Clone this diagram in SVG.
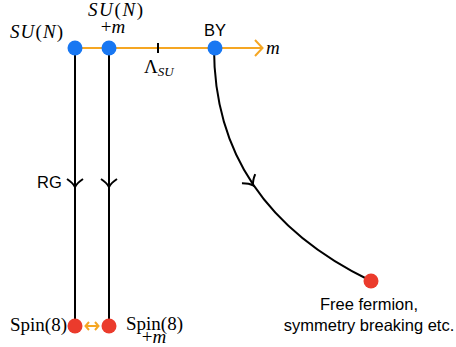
<svg xmlns="http://www.w3.org/2000/svg" width="456" height="347" viewBox="0 0 456 347">
<style>
.sans{font-family:"Liberation Sans",Arial,sans-serif;font-size:16.5px;fill:#000}
.serif{font-family:"Liberation Serif","Times New Roman","DejaVu Serif",serif;font-size:19px;fill:#000}
.it{font-style:italic}
.blk{fill:none;stroke:#000;stroke-width:2}
.org{fill:none;stroke:#F5A623;stroke-width:2}
.blue{fill:#1877F2}
.red{fill:#EB3B2C}
</style>
<defs>
<path id="chev" d="M-8,-7 Q-2,-3 0,1 Q2,-3 8,-7" fill="none" stroke="#000" stroke-width="2"/>
</defs>
<g id="connectors">
<line class="org" x1="75" y1="48" x2="262" y2="48"/>
<path class="org" d="M255,40 L262.5,48 L255,56"/>
<line x1="158" y1="43" x2="158" y2="53" stroke="#000" stroke-width="2"/>
<line class="blk" x1="75" y1="48" x2="75" y2="326"/>
<line class="blk" x1="109" y1="48" x2="109" y2="326"/>
<use href="#chev" transform="translate(75,186)"/>
<use href="#chev" transform="translate(109,186)"/>
<path class="blk" d="M214,48 Q214,205 371,281"/>
<use href="#chev" transform="translate(252.5,184.5) rotate(-34)"/>
<line class="org" x1="86" y1="326" x2="98" y2="326"/>
<path class="org" d="M89,322 L85.5,326 L89,330 M95,322 L98.5,326 L95,330"/>
</g>
<g id="n-sun">
<circle class="blue" cx="75" cy="48" r="7.5"/>
<text class="serif" x="10" y="38" textLength="53"><tspan class="it">SU</tspan>(<tspan class="it">N</tspan>)</text>
</g>
<g id="n-sunm">
<circle class="blue" cx="109" cy="48" r="7.5"/>
<text class="serif" x="88" y="16" font-size="17" textLength="55"><tspan class="it">SU</tspan>(<tspan class="it">N</tspan>)</text>
<text class="serif" x="113" y="33" font-size="18" text-anchor="middle">+<tspan class="it">m</tspan></text>
</g>
<g id="n-by">
<circle class="blue" cx="215" cy="48" r="7.5"/>
<text class="sans" x="215" y="36" text-anchor="middle">BY</text>
</g>
<g id="labels">
<text class="serif" x="144" y="73">Λ<tspan class="it" font-size="13" dy="3">SU</tspan></text>
<text class="serif it" x="266" y="54" font-size="21">m</text>
<text class="sans" x="37" y="188">RG</text>
</g>
<g id="n-spin8">
<circle class="red" cx="75" cy="326" r="7.5"/>
<text class="serif" x="67" y="331" text-anchor="end">Spin(8)</text>
</g>
<g id="n-spin8m">
<circle class="red" cx="109" cy="326" r="7.5"/>
<text class="serif" x="126" y="330" font-size="18.5">Spin(8)</text>
<text class="serif" x="154" y="343" font-size="17" text-anchor="middle">+<tspan class="it">m</tspan></text>
</g>
<g id="n-free">
<circle class="red" cx="371" cy="281" r="7.5"/>
<text class="sans" x="369" y="310" text-anchor="middle">Free fermion,</text>
<text class="sans" x="369" y="331" text-anchor="middle">symmetry breaking etc.</text>
</g>
</svg>
